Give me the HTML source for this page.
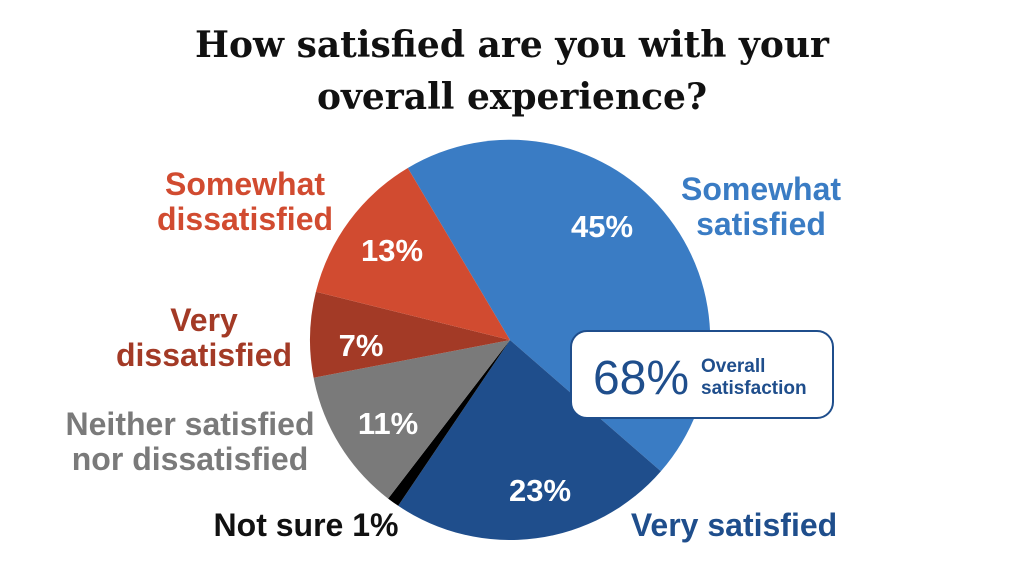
<!DOCTYPE html>
<html><head><meta charset="utf-8"><style>
body{margin:0;background:#fff;width:1024px;height:575px;overflow:hidden}
svg text{font-family:"Liberation Sans",sans-serif;font-weight:bold}
</style></head><body>
<svg width="1024" height="575" viewBox="0 0 1024 575">
<text x="512" y="57" text-anchor="middle" style="font-family:'DejaVu Serif',serif;font-size:36px" fill="#111">How satisfied are you with your</text>
<text x="512" y="109" text-anchor="middle" style="font-family:'DejaVu Serif',serif;font-size:36px" fill="#111">overall experience?</text>
<g transform="translate(510,340)">
<path d="M0,0 L-102.2,-172 A200,200 0 0,1 150.9,131.3 Z" fill="#3a7cc4"/>
<path d="M0,0 L150.9,131.3 A200,200 0 0,1 -111.8,165.8 Z" fill="#1f4e8c"/>
<path d="M0,0 L-111.8,165.8 A200,200 0 0,1 -121.9,158.6 Z" fill="#000"/>
<path d="M0,0 L-121.9,158.6 A200,200 0 0,1 -196.4,37.8 Z" fill="#7a7a7a"/>
<path d="M0,0 L-196.4,37.8 A200,200 0 0,1 -194.1,-48.2 Z" fill="#a33a26"/>
<path d="M0,0 L-194.1,-48.2 A200,200 0 0,1 -102.2,-172 Z" fill="#d14b30"/>
</g>
<g fill="#fff" font-size="31" text-anchor="middle">
<text x="602" y="237">45%</text>
<text x="540" y="501">23%</text>
<text x="388" y="434">11%</text>
<text x="361" y="356">7%</text>
<text x="392" y="261">13%</text>
</g>
<g font-size="32" text-anchor="middle">
<text x="761" y="200" fill="#3a7cc4">Somewhat</text>
<text x="761" y="235" fill="#3a7cc4">satisfied</text>
<text x="734" y="536" fill="#1f4e8c">Very satisfied</text>
<text x="245" y="195" fill="#d14b30">Somewhat</text>
<text x="245" y="230" fill="#d14b30">dissatisfied</text>
<text x="204" y="331" fill="#a33a26">Very</text>
<text x="204" y="366" fill="#a33a26">dissatisfied</text>
<text x="190" y="435" fill="#7a7a7a">Neither satisfied</text>
<text x="190" y="470" fill="#7a7a7a">nor dissatisfied</text>
<text x="306" y="536" fill="#111">Not sure 1%</text>
</g>
<rect x="571" y="331" width="262" height="87" rx="16" fill="#fff" stroke="#1f4e8c" stroke-width="2"/>
<text x="641" y="394" text-anchor="middle" font-size="48" fill="#1f4e8c" style="font-weight:normal">68%</text>
<text x="701" y="372" font-size="19" fill="#1f4e8c">Overall</text>
<text x="701" y="394" font-size="19" fill="#1f4e8c">satisfaction</text>
</svg>
</body></html>
